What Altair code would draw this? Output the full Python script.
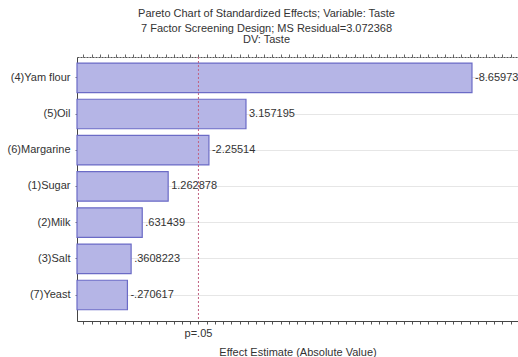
import altair as alt
import pandas as pd

factors = ["(4)Yam flour", "(5)Oil", "(6)Margarine", "(1)Sugar", "(2)Milk", "(3)Salt", "(7)Yeast"]
effects = [-8.65973, 3.157195, -2.25514, 1.262878, 0.631439, 0.3608223, -0.270617]
labels = ["-8.65973", "3.157195", "-2.25514", "1.262878", ".631439", ".3608223", "-.270617"]
p_crit = 2.0
x_domain = [-0.957, 9.78]

df = pd.DataFrame({"factor": factors, "effect": effects, "label": labels})
df["abs"] = df["effect"].abs()

FONT = "Liberation Sans"
W, H = 441, 264

xs = alt.Scale(domain=x_domain, nice=False, zero=False)
ys = alt.Scale(domain=factors, paddingInner=0.185, paddingOuter=0.239, align=0.35)

bars = alt.Chart(df).mark_bar(fill="#b5b5e6", stroke="#6b6bc6", strokeWidth=1.2).encode(
    x=alt.X("abs:Q", scale=xs,
            axis=alt.Axis(orient="bottom", title="Effect Estimate (Absolute Value)", labels=False,
                          tickCount=38, tickSize=3, tickColor="#555", domainColor="#444",
                          titleFont=FONT, titleFontSize=11, titleFontWeight="normal",
                          titleColor="#333", titlePadding=22, grid=False)),
    x2=alt.datum(x_domain[0]),
    y=alt.Y("factor:N", scale=ys, sort=factors,
            axis=alt.Axis(title=None, labelFont=FONT, labelFontSize=11, labelColor="#333",
                          labelPadding=5, tickSize=2, tickColor="#777", domainColor="#444",
                          grid=True, gridColor="#e6e6e6")),
)

text = alt.Chart(df).mark_text(align="left", baseline="middle", dx=3, font=FONT,
                               fontSize=11, color="#333").encode(
    x=alt.X("abs:Q", scale=xs,
            axis=alt.Axis(orient="top", title=None, labels=False, tickCount=38, tickSize=3,
                          tickColor="#666", domainColor="#555", domainDash=[2, 1], grid=False)),
    y=alt.Y("factor:N", scale=ys, sort=factors),
    text="label:N",
)

pdf = pd.DataFrame({"p": [p_crit], "plabel": ["p=.05"]})
rule = alt.Chart(pdf).mark_rule(color="#c06080", strokeDash=[2, 2], strokeWidth=1).encode(
    x=alt.X("p:Q", scale=xs, axis=None)
)
ptext = alt.Chart(pdf).mark_text(font=FONT, fontSize=11, color="#333", baseline="middle").encode(
    x=alt.X("p:Q", scale=xs, axis=None),
    y=alt.value(H + 13),
    text="plabel:N",
)

chart = alt.layer(bars, rule, text, ptext).resolve_axis(x="independent").properties(
    width=W, height=H,
    title=alt.TitleParams(
        text="Pareto Chart of Standardized Effects; Variable: Taste",
        subtitle=["7 Factor Screening Design; MS Residual=3.072368", "DV: Taste"],
        font=FONT, fontSize=11, fontWeight="normal", color="#333", anchor="middle",
        subtitleFont=FONT, subtitleFontSize=11, subtitleColor="#333",
        subtitleLineHeight=11, subtitlePadding=4,
        dx=-31, offset=9,
    ),
    autosize=alt.AutoSizeParams(type="none"),
    padding={"left": 77, "top": 57, "right": 0, "bottom": 36},
).configure_view(stroke=None).configure(background="white")

chart.save("out.html", embed_options={"renderer": "svg", "actions": False})
